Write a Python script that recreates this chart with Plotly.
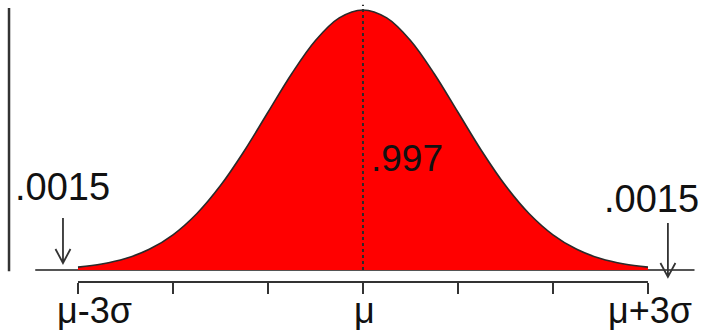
import plotly.graph_objects as go

# Curve heights (density) at steps of 0.25 sigma
z_vals = [-3.0, -2.75, -2.5, -2.25, -2.0, -1.75, -1.5, -1.25, -1.0, -0.75, -0.5, -0.25,
          0.0, 0.25, 0.5, 0.75, 1.0, 1.25, 1.5, 1.75, 2.0, 2.25, 2.5, 2.75, 3.0]
density = [0.0044, 0.0091, 0.0175, 0.0317, 0.0540, 0.0863, 0.1295, 0.1826, 0.2420, 0.3011,
           0.3521, 0.3867, 0.3989, 0.3867, 0.3521, 0.3011, 0.2420, 0.1826, 0.1295, 0.0863,
           0.0540, 0.0317, 0.0175, 0.0091, 0.0044]

tick_vals = [-3, -2, -1, 0, 1, 2, 3]
tick_labels = ["μ-3σ", "μ", "μ+3σ"]
tick_label_pos = [-2.83, 0.02, 3.02]
center_prob = ".997"
tail_prob = ".0015"
arrow_x = [-3.158, 3.21]
arrow_tip_y = [0.0107, -0.0107]
arrow_len_px = [45, 54]

FONT = "Arial, Liberation Sans, sans-serif"
DARK = "#2a2a2a"

fig = go.Figure()
fig.add_trace(go.Scatter(
    x=z_vals, y=density, mode="lines", line=dict(color=DARK, width=1.6, shape="spline"),
    fill="tozeroy", fillcolor="#ff0000", hoverinfo="skip", showlegend=False))

shapes = [
    # baseline
    dict(type="line", xref="x", yref="y", x0=-3.45, x1=3.49, y0=0, y1=0,
         line=dict(color="#555555", width=2), layer="below"),
    # mean dotted line
    dict(type="line", xref="x", yref="y", x0=0, x1=0, y0=0, y1=0.407,
         line=dict(color=DARK, width=2, dash="dot")),
    # left vertical line
    dict(type="line", xref="x", yref="y", x0=-3.726, x1=-3.726, y0=-0.002, y1=0.402,
         line=dict(color="#333333", width=2.5)),
    # bottom axis line
    dict(type="line", xref="x", yref="y", x0=-3, x1=3, y0=-0.0184, y1=-0.0184,
         line=dict(color="#333333", width=2)),
]
# downward arrows with open V heads (pixel-sized, anchored at data points)
for ax_, ay_, L in zip(arrow_x, arrow_tip_y, arrow_len_px):
    shapes.append(dict(
        type="path", xref="x", yref="y", xsizemode="pixel", ysizemode="pixel",
        xanchor=ax_, yanchor=ay_,
        path=f"M0,{L} L0,0 M-7.5,14 L0,0 L7.5,14",
        line=dict(color="#333333", width=1.8)))

annotations = [
    dict(x=0.463, y=0.1718, text=center_prob, showarrow=False,
         font=dict(family=FONT, size=37, color="#111111")),
    dict(x=-3.168, y=0.1273, text=tail_prob, showarrow=False,
         font=dict(family=FONT, size=38, color="#111111")),
    dict(x=3.042, y=0.109, text=tail_prob, showarrow=False,
         font=dict(family=FONT, size=38, color="#111111")),
]
for lab, pos in zip(tick_labels, tick_label_pos):
    annotations.append(dict(x=pos, y=-0.0614, text=lab, showarrow=False,
                            font=dict(family=FONT, size=36, color="#111111")))

fig.update_layout(
    width=708, height=331, margin=dict(l=0, r=0, t=0, b=0),
    paper_bgcolor="white", plot_bgcolor="white",
    shapes=shapes, annotations=annotations,
    xaxis=dict(range=[-3.821, 3.632], showgrid=False, zeroline=False, showline=False,
               tickvals=tick_vals, ticktext=[""] * len(tick_vals), ticks="outside",
               ticklen=11, tickwidth=2, tickcolor="#333333",
               anchor="free", position=0.148, fixedrange=True),
    yaxis=dict(range=[-0.0936, 0.4142], visible=False, fixedrange=True),
)

fig.write_html("out.html", config={"displayModeBar": False},
               post_script="document.body.style.margin='0';document.body.style.overflow='hidden';")
